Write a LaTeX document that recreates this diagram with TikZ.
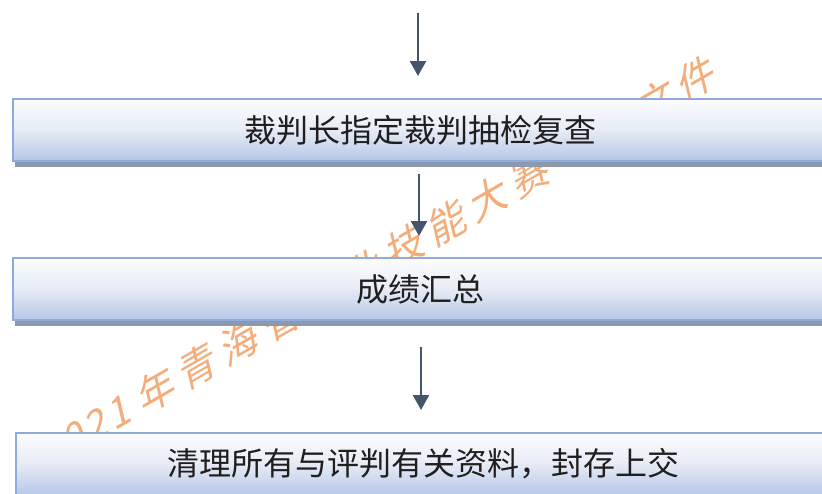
\documentclass[tikz,border=0pt]{standalone}
\usepackage{fontspec}
\newfontfamily\cjk{Noto Sans CJK SC}
\usetikzlibrary{shadows,arrows.meta,calc}
\definecolor{boxline}{RGB}{143,170,220}
\definecolor{boxtop}{RGB}{253,253,254}
\definecolor{boxmid}{RGB}{230,235,245}
\definecolor{boxbot}{RGB}{182,199,232}
\definecolor{shadowc}{RGB}{140,152,172}
\definecolor{arrowc}{RGB}{68,84,106}
\definecolor{wmc}{RGB}{244,172,122}
\begin{document}
\begin{tikzpicture}[x=1pt,y=-1pt,
  stepbox/.style={rectangle, draw=boxline, line width=2pt,
    minimum width=814pt, minimum height=62pt, inner sep=0pt,
    top color=boxtop, bottom color=boxbot, middle color=boxmid,
    drop shadow={shadow xshift=2pt, shadow yshift=-6pt, fill=shadowc, opacity=1},
    font=\cjk\fontsize{32}{38}\selectfont, text=black!88},
  flowarrow/.style={draw=arrowc, line width=2.5pt,
    -{Triangle[width=16pt,length=15pt]}},
  wmchar/.style={text=wmc, font=\cjk\fontsize{40}{42}\selectfont,
    rotate=30, xslant=0.3, inner sep=0pt}]
\useasboundingbox (0,0) rectangle (822,493);
\clip (0,0) rectangle (822,493);
% watermark (only the characters that show between the boxes)
\coordinate (wm) at (157,390);
\foreach \d/\c in {-120/2,-94/0,-68/2,-42/1,0/年,48/青,96/海,144/省,240/业,288/技,336/能,384/大,432/赛,576/文,624/件}{
  \node[wmchar] (wm\d) at ($(wm)+(-30:\d)$) {\c};
}
% boxes
\node[stepbox] (box1) at (420,130) {裁判长指定裁判抽检复查};
\node[stepbox] (box2) at (420,289) {成绩汇总};
\node[stepbox] (box3) at (423,464) {清理所有与评判有关资料，封存上交};
% arrows
\coordinate (start) at (418,13);
\draw[flowarrow, shorten >=22pt] (start) -- (start |- box1.north);
\draw[flowarrow, shorten <=12pt, shorten >=21pt] ([xshift=-1pt]box1.south) -- ([xshift=-1pt]box2.north);
\draw[flowarrow, shorten <=26pt, shorten >=22pt] ([xshift=1pt]box2.south) -- ([xshift=-2pt]box3.north);
\end{tikzpicture}
\end{document}
